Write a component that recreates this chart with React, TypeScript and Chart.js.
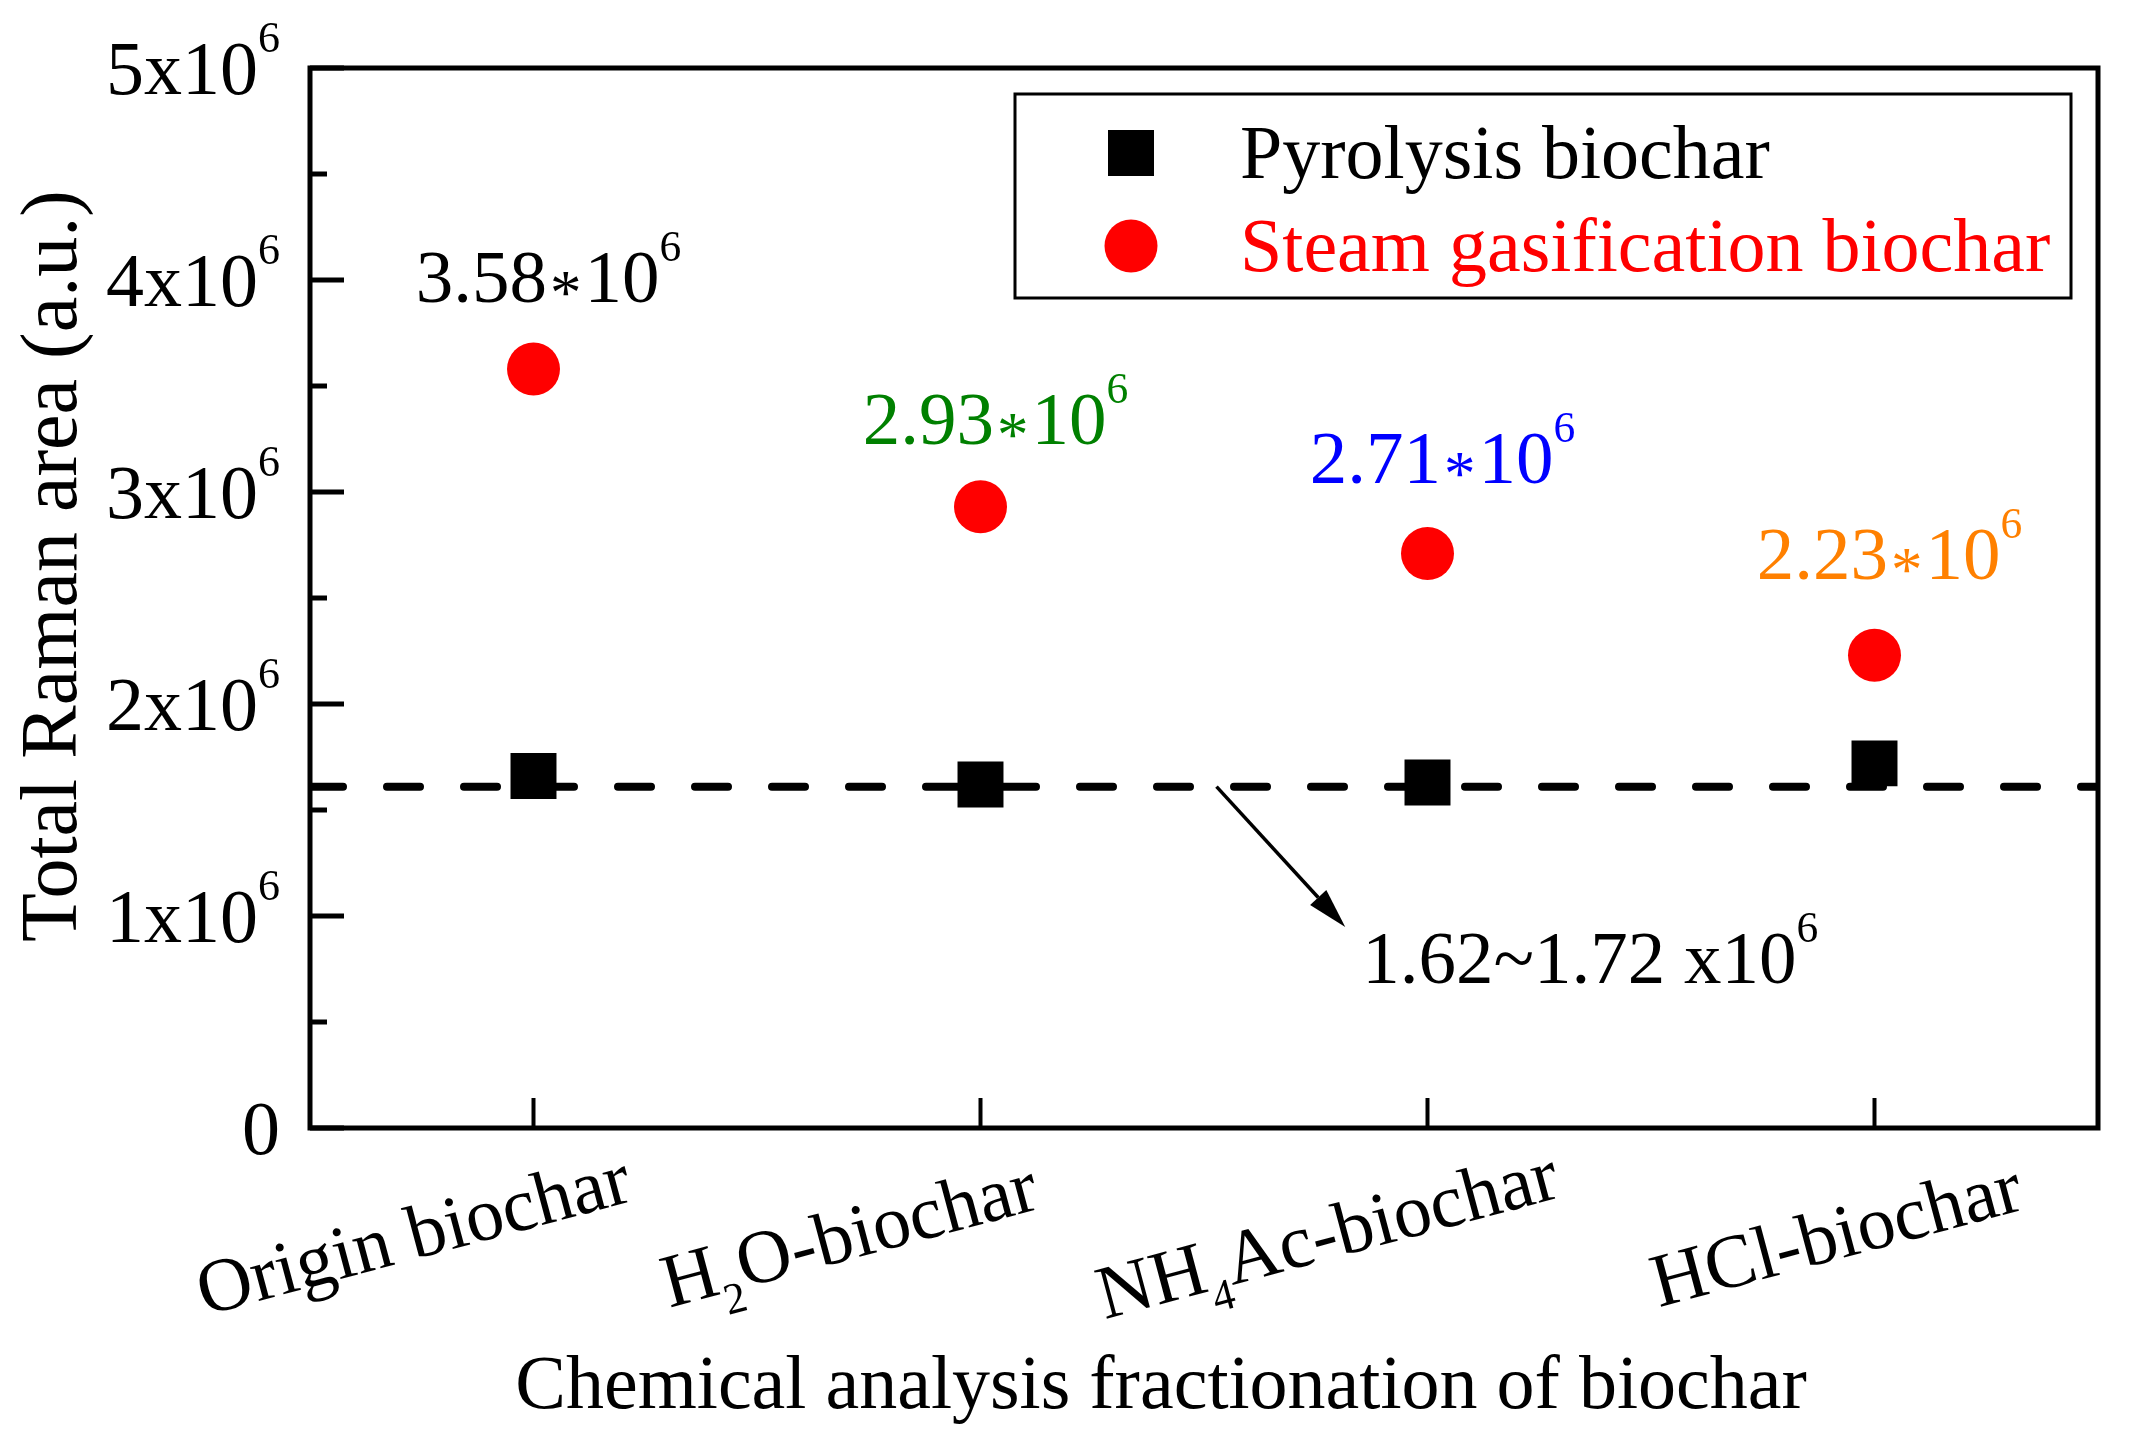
import React, { useEffect, useRef } from "react";
import { Chart, registerables } from "chart.js";

Chart.register(...registerables);

// ---------------- data ----------------
const categories = ["Origin biochar", "H_2O-biochar", "NH_4Ac-biochar", "HCl-biochar"];
const pyrolysis = [1.66e6, 1.62e6, 1.63e6, 1.72e6];
const steam = [3.58e6, 2.93e6, 2.71e6, 2.23e6];
const steamLabels = ["3.58*10^6", "2.93*10^6", "2.71*10^6", "2.23*10^6"];
const steamLabelColors = ["#000000", "#008000", "#0000ff", "#ff8000"];
const baselineLevel = 1.61e6;
const baselineLabel = "1.62~1.72 x10^6";
const yMajorTicks = [0, 1e6, 2e6, 3e6, 4e6, 5e6];
const yMinorTicks = [0.5e6, 1.5e6, 2.5e6, 3.5e6, 4.5e6];
const yTickLabels = ["0", "1x10^6", "2x10^6", "3x10^6", "4x10^6", "5x10^6"];
const seriesNames = ["Pyrolysis biochar", "Steam gasification biochar"];
const xTitle = "Chemical analysis fractionation of biochar";
const yTitle = "Total Raman area (a.u.)";

// ---------------- styling ----------------
const FONT = '"Liberation Serif", "Times New Roman", serif';
const FS = 76;

type Seg = { t: string; size: number; dy: number; pad: number };

function parseRich(s: string, size: number): Seg[] {
  const segs: Seg[] = [];
  let buf = "";
  const flush = () => {
    if (buf) {
      segs.push({ t: buf, size, dy: 0, pad: 0 });
      buf = "";
    }
  };
  for (let i = 0; i < s.length; i++) {
    const c = s[i];
    if ((c === "^" || c === "_") && i + 1 < s.length) {
      flush();
      segs.push({
        t: s[i + 1],
        size: size * 0.58,
        dy: c === "^" ? -size * 0.55 : size * 0.29,
        pad: 0,
      });
      i++;
    } else if (c === "*") {
      flush();
      segs.push({ t: "*", size: size * 0.84, dy: size * 0.16, pad: size * 0.04 });
    } else {
      buf += c;
    }
  }
  flush();
  return segs;
}

function richWidth(ctx: CanvasRenderingContext2D, segs: Seg[]) {
  let w = 0;
  for (const s of segs) {
    ctx.font = `${s.size}px ${FONT}`;
    w += ctx.measureText(s.t).width + 2 * s.pad;
  }
  return w;
}

function drawRich(
  ctx: CanvasRenderingContext2D,
  str: string,
  size: number,
  x: number,
  y: number,
  align: "left" | "center" | "right",
  color: string
) {
  const segs = parseRich(str, size);
  const w = richWidth(ctx, segs);
  let cx = align === "left" ? x : align === "center" ? x - w / 2 : x - w;
  ctx.fillStyle = color;
  ctx.textAlign = "left";
  ctx.textBaseline = "alphabetic";
  for (const s of segs) {
    ctx.font = `${s.size}px ${FONT}`;
    cx += s.pad;
    ctx.fillText(s.t, cx, y + s.dy);
    cx += ctx.measureText(s.t).width + s.pad;
  }
}

// per-label placement tweaks (pixels)
const xLabelDx = [-114, -125, -94, -32];
const xLabelY = 1258;
const steamLabelDy = [-67, -63, -70, -76];

const decor = {
  id: "decor",
  afterDraw(chart: any) {
    const { ctx, chartArea: a, scales } = chart;
    const xs = scales.x;
    const ys = scales.y;
    ctx.save();

    // frame
    ctx.strokeStyle = "#000";
    ctx.lineWidth = 5;
    ctx.lineJoin = "miter";
    ctx.strokeRect(a.left, a.top, a.right - a.left, a.bottom - a.top);

    // y ticks (inward)
    ctx.lineCap = "butt";
    ctx.lineWidth = 5;
    for (const v of yMajorTicks) {
      const py = ys.getPixelForValue(v);
      ctx.beginPath();
      ctx.moveTo(a.left, py);
      ctx.lineTo(a.left + 34, py);
      ctx.stroke();
    }
    for (const v of yMinorTicks) {
      const py = ys.getPixelForValue(v);
      ctx.beginPath();
      ctx.moveTo(a.left, py);
      ctx.lineTo(a.left + 17, py);
      ctx.stroke();
    }
    // x ticks (inward)
    ctx.lineWidth = 4;
    categories.forEach((_, i) => {
      const px = xs.getPixelForValue(i);
      ctx.beginPath();
      ctx.moveTo(px, a.bottom);
      ctx.lineTo(px, a.bottom - 30);
      ctx.stroke();
    });

    // y tick labels
    yMajorTicks.forEach((v, i) => {
      const py = ys.getPixelForValue(v);
      drawRich(ctx, yTickLabels[i], FS, a.left - 30, py + 26, "right", "#000");
    });

    // x tick labels (rotated)
    categories.forEach((c, i) => {
      const px = xs.getPixelForValue(i) + xLabelDx[i];
      ctx.save();
      ctx.translate(px, xLabelY);
      ctx.rotate((-15 * Math.PI) / 180);
      drawRich(ctx, c, FS, 0, 0, "center", "#000");
      ctx.restore();
    });

    // axis titles
    drawRich(ctx, xTitle, FS, 1161, 1408, "center", "#000");
    ctx.save();
    ctx.translate(76, 566);
    ctx.rotate(-Math.PI / 2);
    drawRich(ctx, yTitle, 80, 0, 0, "center", "#000");
    ctx.restore();

    // value labels above steam points
    steam.forEach((v, i) => {
      const px = xs.getPixelForValue(i) + 15;
      const py = ys.getPixelForValue(v) + steamLabelDy[i];
      drawRich(ctx, steamLabels[i], 75, px, py, "center", steamLabelColors[i]);
    });

    // arrow annotation for the dashed level
    const x1 = xs.getPixelForValue(1.528);
    const y1 = ys.getPixelForValue(baselineLevel);
    const x2 = xs.getPixelForValue(1.816);
    const y2 = ys.getPixelForValue(0.948e6);
    const ang = Math.atan2(y2 - y1, x2 - x1);
    const headL = 40;
    const headW = 11;
    const bx = x2 - headL * Math.cos(ang);
    const by = y2 - headL * Math.sin(ang);
    ctx.strokeStyle = "#000";
    ctx.lineWidth = 3.5;
    ctx.lineCap = "butt";
    ctx.beginPath();
    ctx.moveTo(x1, y1);
    ctx.lineTo(bx, by);
    ctx.stroke();
    ctx.fillStyle = "#000";
    ctx.beginPath();
    ctx.moveTo(x2, y2);
    ctx.lineTo(bx + headW * Math.sin(ang), by - headW * Math.cos(ang));
    ctx.lineTo(bx - headW * Math.sin(ang), by + headW * Math.cos(ang));
    ctx.closePath();
    ctx.fill();
    drawRich(
      ctx,
      baselineLabel,
      75,
      xs.getPixelForValue(1.854),
      ys.getPixelForValue(0.684e6),
      "left",
      "#000"
    );

    // legend
    const lx = a.right - 1083;
    const ly = a.top + 26;
    const lw = 1056;
    const lh = 204;
    ctx.lineWidth = 3;
    ctx.strokeStyle = "#000";
    ctx.strokeRect(lx, ly, lw, lh);
    const mx = lx + 116;
    ctx.fillStyle = "#000";
    ctx.fillRect(mx - 23, ly + 59 - 23, 46, 46);
    ctx.fillStyle = "#ff0000";
    ctx.beginPath();
    ctx.arc(mx, ly + 152, 26.5, 0, Math.PI * 2);
    ctx.fill();
    drawRich(ctx, seriesNames[0], FS, lx + 225, ly + 84, "left", "#000");
    drawRich(ctx, seriesNames[1], FS, lx + 225, ly + 177, "left", "#ff0000");

    ctx.restore();
  },
};

export default function App() {
  const ref = useRef<HTMLCanvasElement | null>(null);

  useEffect(() => {
    document.body.style.margin = "0";
    const canvas = ref.current;
    if (!canvas) return;
    const chart = new Chart(canvas, {
      type: "scatter",
      data: {
        datasets: [
          {
            label: seriesNames[0],
            data: pyrolysis.map((v, i) => ({ x: i, y: v })),
            pointStyle: "rect",
            pointRadius: 32.5,
            pointHoverRadius: 32.5,
            backgroundColor: "#000000",
            borderColor: "#000000",
            borderWidth: 0,
          },
          {
            label: seriesNames[1],
            data: steam.map((v, i) => ({ x: i, y: v })),
            pointStyle: "circle",
            pointRadius: 26.5,
            pointHoverRadius: 26.5,
            backgroundColor: "#ff0000",
            borderColor: "#ff0000",
            borderWidth: 0,
          },
          {
            type: "line",
            label: "level",
            data: [
              { x: -0.5, y: baselineLevel },
              { x: 3.5, y: baselineLevel },
            ],
            borderColor: "#000000",
            borderWidth: 8,
            borderDash: [33, 44],
            borderCapStyle: "round",
            pointRadius: 0,
            fill: false,
          } as any,
        ],
      },
      options: {
        responsive: false,
        animation: false,
        devicePixelRatio: 1,
        events: [],
        layout: { padding: { left: 310, top: 68, right: 41, bottom: 320 } },
        plugins: { legend: { display: false }, tooltip: { enabled: false } },
        scales: {
          x: { type: "linear", min: -0.5, max: 3.5, display: false },
          y: { type: "linear", min: 0, max: 5e6, display: false },
        },
      },
      plugins: [decor],
    });
    return () => chart.destroy();
  }, []);

  return (
    <canvas
      ref={ref}
      width={2139}
      height={1448}
      style={{ display: "block", width: "2139px", height: "1448px", background: "#fff" }}
    />
  );
}
